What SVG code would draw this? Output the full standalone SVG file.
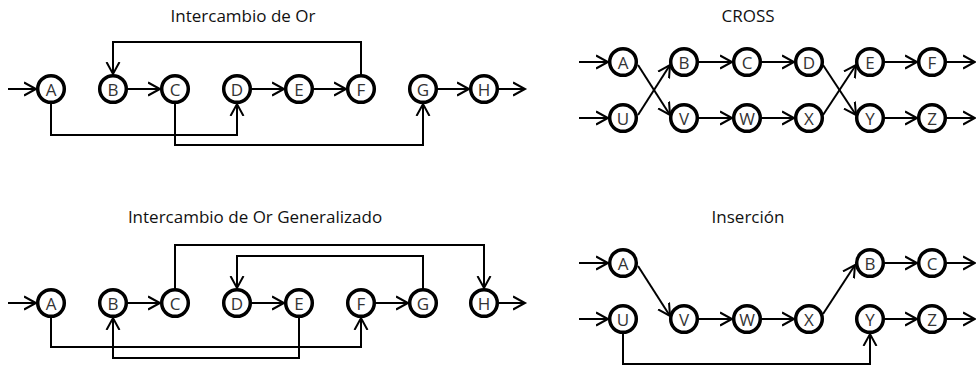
<svg xmlns="http://www.w3.org/2000/svg" width="976" height="372" viewBox="0 0 976 372">
<style>
.title{font-family:"Open Sans","Liberation Sans",sans-serif;font-size:17px;fill:#111;text-anchor:middle}
.nd circle{fill:#fff;stroke:#000;stroke-width:3.5}
.nd text{font-family:"Open Sans","Liberation Sans",sans-serif;font-size:17px;fill:#333;text-anchor:middle;dominant-baseline:central}
.cn path{fill:none;stroke:#000;stroke-width:2;marker-end:url(#arr)}
</style>
<defs>
<marker id="arr" markerUnits="userSpaceOnUse" markerWidth="16" markerHeight="16" refX="12" refY="8" orient="auto">
<path d="M0,1.5 L12,8 L0,14.5" fill="none" stroke="#000" stroke-width="2"/>
</marker>
</defs>
<rect width="976" height="372" fill="#fff"/>
<text class="title" x="243" y="22">Intercambio de Or</text>
<text class="title" x="748" y="22">CROSS</text>
<text class="title" x="255" y="223">Intercambio de Or Generalizado</text>
<text class="title" x="748" y="223">Inserción</text>

<g class="cn" id="connectors">
<!-- top-left -->
<path d="M8,89 H36"/>
<path d="M128,89 H160"/>
<path d="M252,89 H284"/>
<path d="M314,89 H346"/>
<path d="M438,89 H469"/>
<path d="M499,89 H525"/>
<path d="M361,75 V42 H113 V74"/>
<path d="M51,103 V135 H237 V104"/>
<path d="M175,103 V145 H423 V104"/>
<!-- CROSS -->
<path d="M579,62 H608"/>
<path d="M579,118 H608"/>
<path d="M699,62 H732"/>
<path d="M762,62 H794"/>
<path d="M885,62 H917"/>
<path d="M947,62 H975"/>
<path d="M699,118 H732"/>
<path d="M762,118 H794"/>
<path d="M885,118 H917"/>
<path d="M947,118 H975"/>
<path d="M638,65 L670,115"/>
<path d="M638,115 L670,65"/>
<path d="M823,65 L856,115"/>
<path d="M823,115 L856,65"/>
<!-- bottom-left -->
<path d="M8,303 H36"/>
<path d="M128,303 H160"/>
<path d="M252,303 H284"/>
<path d="M376,303 H408"/>
<path d="M499,303 H525"/>
<path d="M175,289 V245 H484 V288"/>
<path d="M423,289 V256 H237 V288"/>
<path d="M51,317 V347 H361 V318"/>
<path d="M299,317 V358 H113 V318"/>
<!-- Insercion -->
<path d="M579,263 H608"/>
<path d="M579,319 H608"/>
<path d="M699,319 H732"/>
<path d="M762,319 H794"/>
<path d="M885,263 H917"/>
<path d="M947,263 H975"/>
<path d="M885,319 H917"/>
<path d="M947,319 H975"/>
<path d="M638,266 L670,316"/>
<path d="M823,314 L855,265"/>
<path d="M623,333 V364 H870 V334"/>
</g>

<g id="tl-A" class="nd"><circle cx="51" cy="89" r="13.3"/><text x="51" y="89">A</text></g>
<g id="tl-B" class="nd"><circle cx="113" cy="89" r="13.3"/><text x="113" y="89">B</text></g>
<g id="tl-C" class="nd"><circle cx="175" cy="89" r="13.3"/><text x="175" y="89">C</text></g>
<g id="tl-D" class="nd"><circle cx="237" cy="89" r="13.3"/><text x="237" y="89">D</text></g>
<g id="tl-E" class="nd"><circle cx="299" cy="89" r="13.3"/><text x="299" y="89">E</text></g>
<g id="tl-F" class="nd"><circle cx="361" cy="89" r="13.3"/><text x="361" y="89">F</text></g>
<g id="tl-G" class="nd"><circle cx="423" cy="89" r="13.3"/><text x="423" y="89">G</text></g>
<g id="tl-H" class="nd"><circle cx="484" cy="89" r="13.3"/><text x="484" y="89">H</text></g>

<g id="cr-A" class="nd"><circle cx="623" cy="62" r="13.3"/><text x="623" y="62">A</text></g>
<g id="cr-B" class="nd"><circle cx="684" cy="62" r="13.3"/><text x="684" y="62">B</text></g>
<g id="cr-C" class="nd"><circle cx="747" cy="62" r="13.3"/><text x="747" y="62">C</text></g>
<g id="cr-D" class="nd"><circle cx="809" cy="62" r="13.3"/><text x="809" y="62">D</text></g>
<g id="cr-E" class="nd"><circle cx="870" cy="62" r="13.3"/><text x="870" y="62">E</text></g>
<g id="cr-F" class="nd"><circle cx="932" cy="62" r="13.3"/><text x="932" y="62">F</text></g>
<g id="cr-U" class="nd"><circle cx="623" cy="118" r="13.3"/><text x="623" y="118">U</text></g>
<g id="cr-V" class="nd"><circle cx="684" cy="118" r="13.3"/><text x="684" y="118">V</text></g>
<g id="cr-W" class="nd"><circle cx="747" cy="118" r="13.3"/><text x="747" y="118">W</text></g>
<g id="cr-X" class="nd"><circle cx="809" cy="118" r="13.3"/><text x="809" y="118">X</text></g>
<g id="cr-Y" class="nd"><circle cx="870" cy="118" r="13.3"/><text x="870" y="118">Y</text></g>
<g id="cr-Z" class="nd"><circle cx="932" cy="118" r="13.3"/><text x="932" y="118">Z</text></g>

<g id="bl-A" class="nd"><circle cx="51" cy="303" r="13.3"/><text x="51" y="303">A</text></g>
<g id="bl-B" class="nd"><circle cx="113" cy="303" r="13.3"/><text x="113" y="303">B</text></g>
<g id="bl-C" class="nd"><circle cx="175" cy="303" r="13.3"/><text x="175" y="303">C</text></g>
<g id="bl-D" class="nd"><circle cx="237" cy="303" r="13.3"/><text x="237" y="303">D</text></g>
<g id="bl-E" class="nd"><circle cx="299" cy="303" r="13.3"/><text x="299" y="303">E</text></g>
<g id="bl-F" class="nd"><circle cx="361" cy="303" r="13.3"/><text x="361" y="303">F</text></g>
<g id="bl-G" class="nd"><circle cx="423" cy="303" r="13.3"/><text x="423" y="303">G</text></g>
<g id="bl-H" class="nd"><circle cx="484" cy="303" r="13.3"/><text x="484" y="303">H</text></g>

<g id="in-A" class="nd"><circle cx="623" cy="263" r="13.3"/><text x="623" y="263">A</text></g>
<g id="in-U" class="nd"><circle cx="623" cy="319" r="13.3"/><text x="623" y="319">U</text></g>
<g id="in-V" class="nd"><circle cx="684" cy="319" r="13.3"/><text x="684" y="319">V</text></g>
<g id="in-W" class="nd"><circle cx="747" cy="319" r="13.3"/><text x="747" y="319">W</text></g>
<g id="in-X" class="nd"><circle cx="809" cy="319" r="13.3"/><text x="809" y="319">X</text></g>
<g id="in-B" class="nd"><circle cx="870" cy="263" r="13.3"/><text x="870" y="263">B</text></g>
<g id="in-C" class="nd"><circle cx="932" cy="263" r="13.3"/><text x="932" y="263">C</text></g>
<g id="in-Y" class="nd"><circle cx="870" cy="319" r="13.3"/><text x="870" y="319">Y</text></g>
<g id="in-Z" class="nd"><circle cx="932" cy="319" r="13.3"/><text x="932" y="319">Z</text></g>
</svg>
